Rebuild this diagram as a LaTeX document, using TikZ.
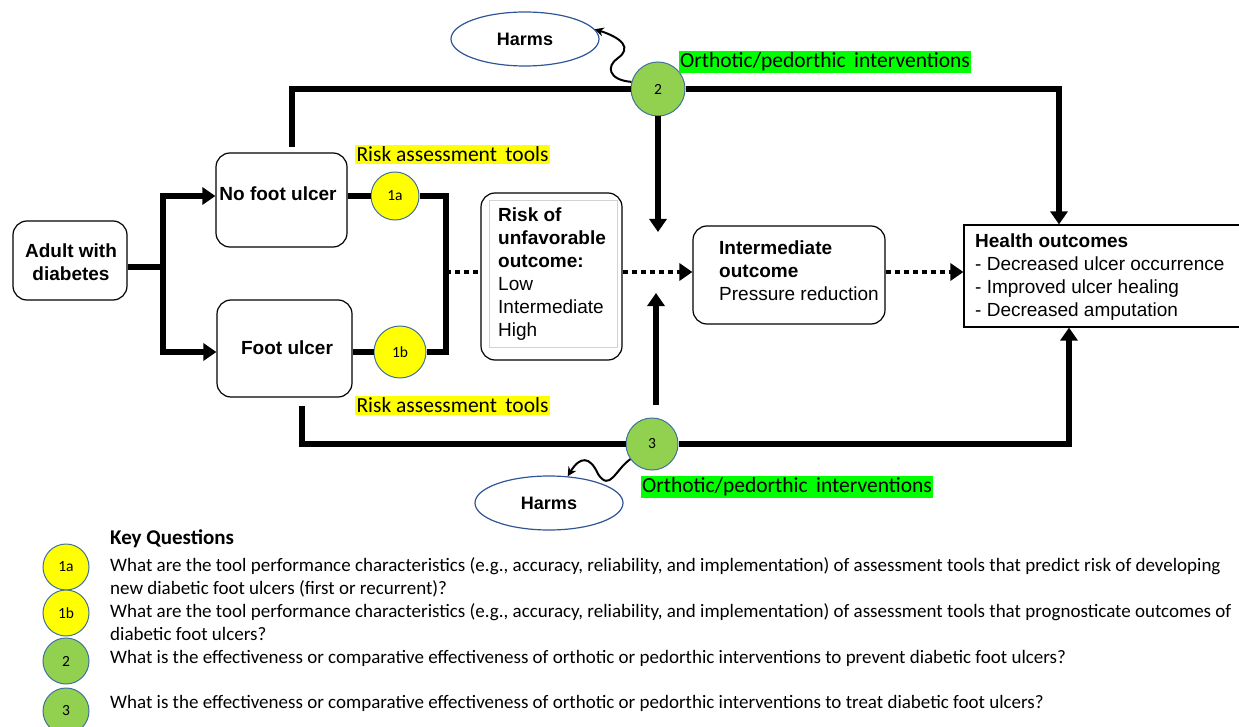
\documentclass[tikz,border=0pt]{standalone}
\usepackage{fontspec}
\setmainfont{Liberation Sans}
\newfontfamily\calib{Carlito}
\definecolor{KQgreen}{HTML}{92D050}
\definecolor{KQyellow}{HTML}{FFFF00}
\definecolor{KQedge}{HTML}{41719C}
\definecolor{HLgreen}{HTML}{00FF00}
\definecolor{HarmBlue}{HTML}{2F5597}
\usetikzlibrary{arrows.meta,calc,positioning,shapes.geometric}

\begin{document}
\begin{tikzpicture}[x=1pt,y=-1pt,
  box/.style={draw,line width=1.2pt,rounded corners=14pt},
  txt/.style={font=\fontsize{19}{23}\selectfont,inner sep=0pt,align=left},
  heavy/.style={line width=6pt},
  tip/.style={-{Triangle[length=13pt,width=17pt]}},
  dotline/.style={line width=4.5pt,dash pattern=on 5pt off 4pt},
  kq/.style={circle,draw=KQedge,line width=1pt,inner sep=0pt,font=\calib\fontsize{15.5}{16}\selectfont},
  hl/.style={inner sep=1.5pt,font=\calib\fontsize{21.5}{23}\selectfont},
  harm/.style={ellipse,draw=HarmBlue,line width=1.2pt,minimum width=148pt,minimum height=54pt,font=\bfseries\fontsize{18}{20}\selectfont},
  wavy/.style={line width=2pt,-{Stealth[length=9pt,width=9pt]}},
  kqtxt/.style={anchor=north west,inner sep=0pt,align=left,font=\calib\fontsize{19}{23}\selectfont}]
  \useasboundingbox (0,0) rectangle (1239,727);
  \clip (0,0) rectangle (1239,727);

  \node[box,minimum width=114pt,minimum height=79pt] (adult) at (70,260.5) {};
  \node[txt,align=center] (adulttxt) at (71,262) {\textbf{Adult with}\\\textbf{diabetes}};
  \node[box,minimum width=131pt,minimum height=94pt] (nofoot) at (281.5,200) {};
  \node[txt] (nofoottxt) at (278,194) {\textbf{No foot ulcer}};
  \node[box,minimum width=135pt,minimum height=97pt] (footu) at (284.5,348.5) {};
  \node[txt] (footutxt) at (287,348) {\textbf{Foot ulcer}};
  \node[kq,fill=KQyellow,minimum size=48pt] (q1a) at (395,196) {1a};
  \node[kq,fill=KQyellow,minimum size=52pt] (q1b) at (400,352) {1b};
  \node[box,minimum width=141pt,minimum height=167pt] (risk) at (551.5,276.5) {};
  \node[draw=gray!35,line width=0.8pt,minimum width=128pt,minimum height=147pt] (riskin) at (553,273.5) {};
  \node[txt,anchor=north west] (risktxt) at (498,208) {\textbf{Risk of}\\\textbf{unfavorable}\\\textbf{outcome:}\\Low\\Intermediate\\High};
  \node[box,minimum width=192pt,minimum height=98pt] (inter) at (789,275) {};
  \node[txt,anchor=north west] (intertxt) at (719,241) {\textbf{Intermediate}\\\textbf{outcome}\\Pressure reduction};
  \node[draw,line width=1.2pt,minimum width=281pt,minimum height=102pt] (health) at (1104.5,276) {};
  \node[txt,anchor=north west] (healthtxt) at (975,234) {\textbf{Health outcomes}\\- Decreased ulcer occurrence\\- Improved ulcer healing\\- Decreased amputation};
  \node[kq,fill=KQgreen,minimum size=54pt] (q2) at (658,89) {2};
  \node[kq,fill=KQgreen,minimum size=52pt] (q3) at (652,444) {3};
  \node[harm] (harmtop) at (525,39) {Harms};
  \node[harm] (harmbot) at (549,503) {Harms};
  \node[hl,fill=HLgreen] (orth2) at (825,62) {Orthotic/pedorthic\, interventions};
  \node[hl,fill=HLgreen] (orth3) at (787,487) {Orthotic/pedorthic\, interventions};
  \node[hl,fill=KQyellow] (ratop) at (452.5,154.5) {Risk assessment\, tools};
  \node[hl,fill=KQyellow] (rabot) at (452.5,405.5) {Risk assessment\, tools};

  \coordinate (split) at (163,267);
  \coordinate (brk) at (446,272);
  \coordinate (tl) at (292,89);
  \coordinate (tr) at (1059,89);
  \coordinate (bl) at (302,444);
  \coordinate (br) at (1069,444);
  \coordinate (jt) at (658,232);
  \coordinate (jb) at (656,293);

  \draw[heavy] (adult.east |- split) -- (split);
  \draw[heavy,tip] (split) |- (nofoot.west |- q1a);
  \draw[heavy,tip] (split) |- (footu.west |- q1b);
  \draw[heavy] (nofoot.east |- q1a) -- (q1a);
  \draw[heavy] (footu.east |- q1b) -- (q1b);
  \draw[heavy] (q1a) -| (brk) |- (q1b);
  \draw[dotline] (brk) -- (brk -| risk.west);
  \draw[dotline,tip] (risk.east |- brk) -- (inter.west |- brk);
  \draw[dotline,tip] (inter.east |- brk) -- (health.west |- brk);
  \draw[heavy] ($(nofoot.north -| tl)+(0,-5)$) -- (tl) -- (q2);
  \draw[heavy,tip] (q2) -- (tr) -- (tr |- health.north);
  \draw[heavy,tip] (q2) -- (jt);
  \draw[heavy] ($(footu.south -| bl)+(0,8)$) -- (bl) -- (q3);
  \draw[heavy,tip] (q3) -- (br) -- (br |- health.south);
  \draw[heavy,tip] ($(q3.north -| jb)+(0,-13)$) -- (jb);
  \draw[wavy] (q2.165) .. controls (608,80) and (606,66) .. (618,58) .. controls (632,48) and (622,38) .. (harmtop.8);
  \draw[wavy] (q3.215) .. controls (615,470) and (610,492) .. (598,474) .. controls (590,456) and (580,456) .. (harmbot.55);

  \node[anchor=west,inner sep=0pt,font=\calib\bfseries\fontsize{21}{22}\selectfont] (kqhead) at (110,539) {Key Questions};
  \foreach \lab/\yy/\col in {1a/567/KQyellow,1b/613/KQyellow,2/661/KQgreen,3/711/KQgreen}
    \node[kq,fill=\col,minimum size=46pt] (key\lab) at (66,\yy) {\lab};
  \node[kqtxt] (kqt1a) at (110,557) {What are the tool performance characteristics (e.g., accuracy, reliability, and implementation) of assessment tools that predict risk of developing\\new diabetic foot ulcers (first or recurrent)?};
  \node[kqtxt] (kqt1b) at (110,603) {What are the tool performance characteristics (e.g., accuracy, reliability, and implementation) of assessment tools that prognosticate outcomes of\\diabetic foot ulcers?};
  \node[kqtxt] (kqt2) at (110,650) {What is the effectiveness or comparative effectiveness of orthotic or pedorthic interventions to prevent diabetic foot ulcers?};
  \node[kqtxt] (kqt3) at (110,695) {What is the effectiveness or comparative effectiveness of orthotic or pedorthic interventions to treat diabetic foot ulcers?};
\end{tikzpicture}
\end{document}
